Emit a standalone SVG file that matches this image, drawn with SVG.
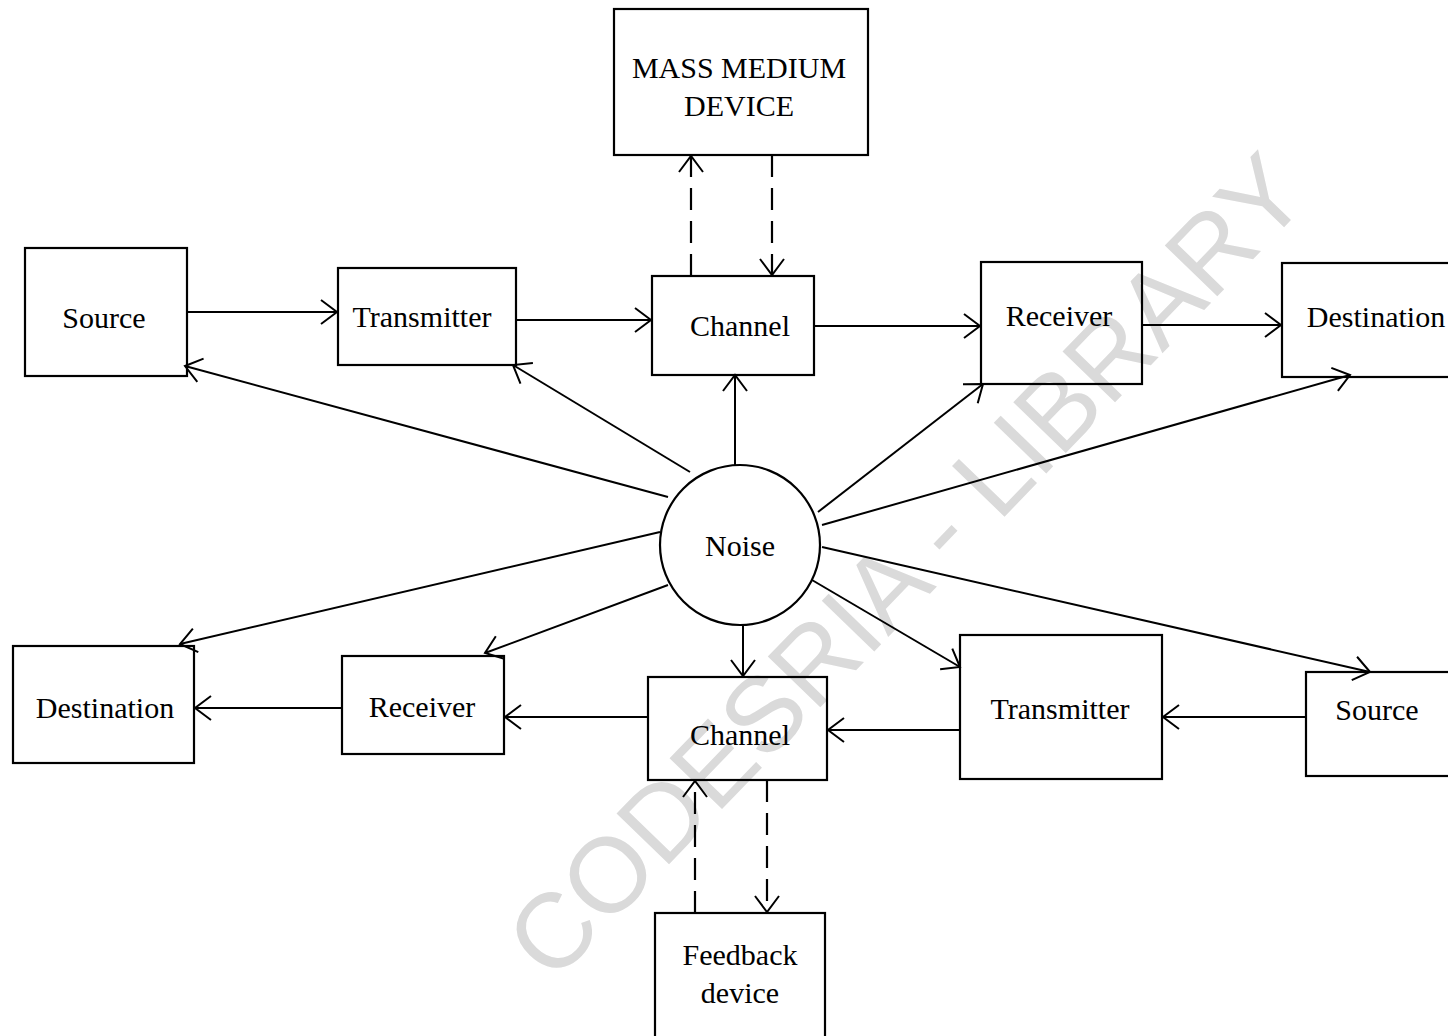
<svg xmlns="http://www.w3.org/2000/svg" width="1448" height="1036" viewBox="0 0 1448 1036">
<style>
.box{fill:none;stroke:#000;stroke-width:2.2}
.lbl{font-family:"Liberation Serif","Times New Roman",serif;font-size:30px;fill:#000;text-anchor:middle}
.ln{stroke:#000;stroke-width:2;fill:none;marker-end:url(#arr)}
.dash{stroke:#000;stroke-width:2.2;fill:none;stroke-dasharray:22 11;marker-end:url(#arr)}
.wm{font-family:"Liberation Sans",Arial,sans-serif;font-size:106px;fill:#dadada;text-anchor:middle}
</style>
<defs>
<marker id="arr" markerUnits="userSpaceOnUse" viewBox="0 -14 20 28" refX="17" refY="0" markerWidth="20" markerHeight="28" orient="auto">
<path d="M1,-12 L17,0 L1,12" fill="none" stroke="#000" stroke-width="2" stroke-dasharray="none"/>
</marker>
</defs>
<rect width="1448" height="1036" fill="#fff"/>
<text class="wm" transform="translate(905,565) rotate(-46)" y="38">CODESRIA - LIBRARY</text>

<g id="connectors">
<line class="ln" x1="187" y1="312" x2="337" y2="312"/>
<line class="ln" x1="516" y1="320" x2="651" y2="320"/>
<line class="ln" x1="814" y1="326" x2="980" y2="326"/>
<line class="ln" x1="1142" y1="325" x2="1281" y2="325"/>
<line class="dash" x1="691" y1="276" x2="691" y2="156"/>
<line class="dash" x1="772" y1="155" x2="772" y2="275"/>
<line class="ln" x1="668" y1="497" x2="185" y2="366"/>
<line class="ln" x1="690" y1="472" x2="513" y2="365"/>
<line class="ln" x1="735" y1="465" x2="735" y2="375"/>
<line class="ln" x1="818" y1="512" x2="983" y2="384"/>
<line class="ln" x1="822" y1="525" x2="1350" y2="375"/>
<line class="ln" x1="660" y1="532" x2="180" y2="644"/>
<line class="ln" x1="668" y1="585" x2="485" y2="653"/>
<line class="ln" x1="743" y1="625" x2="743" y2="676"/>
<line class="ln" x1="812" y1="580" x2="960" y2="667"/>
<line class="ln" x1="822" y1="547" x2="1370" y2="672"/>
<line class="ln" x1="342" y1="708" x2="195" y2="708"/>
<line class="ln" x1="648" y1="717" x2="505" y2="717"/>
<line class="ln" x1="960" y1="730" x2="828" y2="730"/>
<line class="ln" x1="1306" y1="717" x2="1163" y2="717"/>
<line class="dash" x1="695" y1="913" x2="695" y2="781"/>
<line class="dash" x1="767" y1="780" x2="767" y2="912"/>
</g>

<g id="mass-medium"><rect class="box" x="614" y="9" width="254" height="146"/>
<text class="lbl" x="739" y="78">MASS MEDIUM</text><text class="lbl" x="739" y="116">DEVICE</text></g>
<g id="source-top"><rect class="box" x="25" y="248" width="162" height="128"/><text class="lbl" x="104" y="328">Source</text></g>
<g id="transmitter-top"><rect class="box" x="338" y="268" width="178" height="97"/><text class="lbl" x="422" y="327">Transmitter</text></g>
<g id="channel-top"><rect class="box" x="652" y="276" width="162" height="99"/><text class="lbl" x="740" y="336">Channel</text></g>
<g id="receiver-top"><rect class="box" x="981" y="262" width="161" height="122"/><text class="lbl" x="1059" y="326">Receiver</text></g>
<g id="destination-top"><rect class="box" x="1282" y="263" width="180" height="114"/><text class="lbl" x="1376" y="327">Destination</text></g>
<g id="noise"><circle class="box" cx="740" cy="545" r="80"/><text class="lbl" x="740" y="556">Noise</text></g>
<g id="destination-bottom"><rect class="box" x="13" y="646" width="181" height="117"/><text class="lbl" x="105" y="718">Destination</text></g>
<g id="receiver-bottom"><rect class="box" x="342" y="656" width="162" height="98"/><text class="lbl" x="422" y="717">Receiver</text></g>
<g id="channel-bottom"><rect class="box" x="648" y="677" width="179" height="103"/><text class="lbl" x="740" y="745">Channel</text></g>
<g id="transmitter-bottom"><rect class="box" x="960" y="635" width="202" height="144"/><text class="lbl" x="1060" y="719">Transmitter</text></g>
<g id="source-bottom"><rect class="box" x="1306" y="672" width="160" height="104"/><text class="lbl" x="1377" y="720">Source</text></g>
<g id="feedback"><rect class="box" x="655" y="913" width="170" height="140"/>
<text class="lbl" x="740" y="965">Feedback</text><text class="lbl" x="740" y="1003">device</text></g>
</svg>
